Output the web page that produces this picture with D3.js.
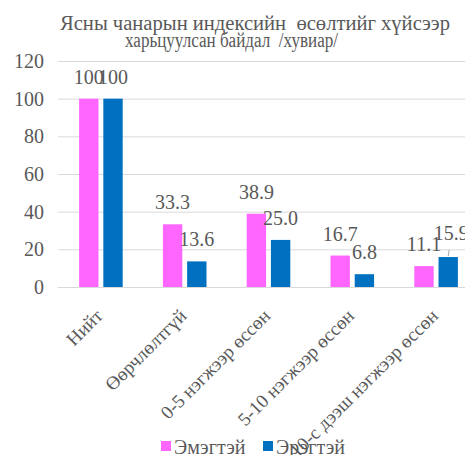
<!DOCTYPE html>
<html><head><meta charset="utf-8">
<script src="https://cdn.jsdelivr.net/npm/d3@7"></script>
<style>
html,body{margin:0;padding:0;background:#fff;}
</style></head>
<body>
<svg id="c" width="465" height="455"></svg>
<script>
const categories = ["Нийт", "Өөрчлөлтгүй", "0-5 нэгжээр өссөн", "5-10 нэгжээр өссөн", "10-с дээш нэгжээр өссөн"];
const seriesNames = ["Эмэгтэй", "Эрэгтэй"];
const female = [100, 33.3, 38.9, 16.7, 11.1];
const male = [100, 13.6, 25.0, 6.8, 15.9];
const femaleLabels = ["100", "33.3", "38.9", "16.7", "11.1"];
const maleLabels = ["100", "13.6", "25.0", "6.8", "15.9"];
const yTicks = [0, 20, 40, 60, 80, 100, 120];
const titleLines = ["Ясны чанарын индексийн  өсөлтийг хүйсээр", "харьцуулсан байдал  /хувиар/"];
const colors = ["#FF66FF", "#0070C0"];

const FONT = "Liberation Serif";
const svg = d3.select("#c");
const textColor = "#595959";

const y = d3.scaleLinear().domain([0, 120]).range([287, 61]);
const x = d3.scaleBand().domain(categories).range([59, 478]).paddingInner(0.48).paddingOuter(0.24);
const xs = d3.scaleBand().domain(seriesNames).range([0, x.bandwidth()]).paddingInner(0.2);

// gridlines
svg.append("g").selectAll("line").data(yTicks).join("line")
  .attr("x1", 58).attr("x2", 465)
  .attr("y1", d => y(d) + 0.5).attr("y2", d => y(d) + 0.5)
  .attr("stroke", "#d9d9d9").attr("stroke-width", 1);

// y axis labels
const yAxis = d3.axisLeft(y).tickValues(yTicks).tickSize(0).tickPadding(0);
const ga = svg.append("g").attr("transform", "translate(44,0)").call(yAxis);
ga.select(".domain").remove();
ga.attr("font-family", FONT).attr("font-size", 20);
ga.selectAll("text").attr("fill", textColor);

// bars
const data = categories.map((c, i) => ({c, last: i === categories.length - 1, vals: [
  {s: seriesNames[0], v: female[i], l: femaleLabels[i]},
  {s: seriesNames[1], v: male[i], l: maleLabels[i]}
]}));
const groups = svg.append("g").selectAll("g").data(data).join("g")
  .attr("transform", d => `translate(${x(d.c)},0)`);
groups.selectAll("rect").data(d => d.vals).join("rect")
  .attr("x", d => xs(d.s)).attr("width", xs.bandwidth())
  .attr("y", d => y(d.v)).attr("height", d => y(0) - y(d.v))
  .attr("fill", (d, i) => colors[i]);
groups.each(function(g) {
  const sel = d3.select(this);
  g.vals.forEach((d, i) => {
    const moved = g.last && i === 1;
    const cx = xs(d.s) + xs.bandwidth() / 2;
    sel.append("text")
      .attr("x", cx + (moved ? 3 : 0))
      .attr("y", y(d.v) - (moved ? 17 : 15))
      .attr("text-anchor", "middle").attr("font-size", 20).attr("fill", textColor)
      .attr("font-family", FONT)
      .text(d.l);
    if (moved) {
      sel.append("line")
        .attr("x1", cx + 1).attr("x2", cx)
        .attr("y1", y(d.v) - 7).attr("y2", y(d.v) - 1)
        .attr("stroke", "#a6a6a6").attr("stroke-width", 1);
    }
  });
});

// category labels
svg.append("g").selectAll("text").data(categories).join("text")
  .attr("transform", d => `translate(${x(d) + x.bandwidth() / 2 + 3},${317}) rotate(-45)`)
  .attr("text-anchor", "end").attr("font-size", 19).attr("fill", textColor)
  .attr("font-family", FONT)
  .text(d => d);

// title
const tt = svg.append("g").attr("font-family", FONT).attr("font-size", 20).attr("fill", textColor);
tt.append("text").attr("x", 60).attr("y", 30)
  .attr("textLength", 390).attr("lengthAdjust", "spacingAndGlyphs")
  .style("white-space", "pre").text(titleLines[0]);
tt.append("text").attr("x", 125).attr("y", 47)
  .attr("textLength", 213).attr("lengthAdjust", "spacingAndGlyphs")
  .style("white-space", "pre").text(titleLines[1]);

// legend
const legX = [161, 263];
const lg = svg.append("g").selectAll("g").data(seriesNames).join("g")
  .attr("transform", (d, i) => `translate(${legX[i]},441)`);
lg.append("rect").attr("width", 10).attr("height", 10).attr("fill", (d, i) => colors[i]);
lg.append("text").attr("x", 13).attr("y", 13).attr("font-size", 20).attr("fill", textColor)
  .attr("font-family", FONT).text(d => d);
</script>
</body></html>
